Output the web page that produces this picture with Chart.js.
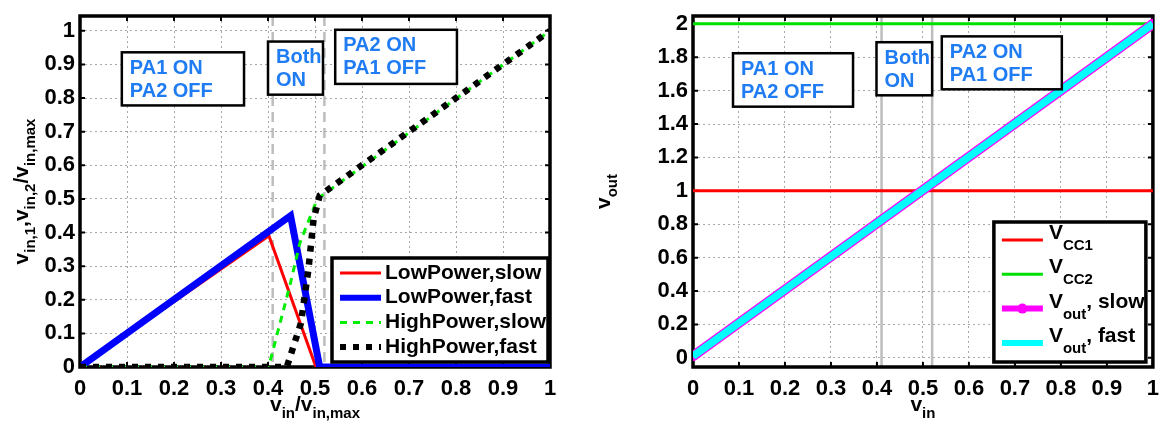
<!DOCTYPE html>
<html>
<head>
<meta charset="utf-8">
<script src="https://cdn.jsdelivr.net/npm/chart.js@4.4.0/dist/chart.umd.min.js"></script>
<style>
  body { margin: 0; background: #fff; }
  #wrap { position: relative; width: 1170px; height: 426px; }
  .pane { position: absolute; top: 0; width: 580px; height: 426px; }
</style>
</head>
<body>
<div id="wrap">
  <div class="pane" style="left:0"><canvas id="left" width="580" height="426"></canvas></div>
  <div class="pane" style="left:590px"><canvas id="right" width="580" height="426"></canvas></div>
</div>
<script>
// left plot: normalised input drive of each PA
const lowSlowX = [0.005, 0.402, 0.502, 1];
const lowSlowY = [0.005, 0.39, 0, 0];
const lowFastX = [0.005, 0.448, 0.51, 1];
const lowFastY = [0.005, 0.45, 0, 0];
const highSlowX = [0, 0.4, 0.405, 0.447, 0.468, 0.505, 1];
const highSlowY = [0, 0, 0.02, 0.245, 0.37, 0.5, 1];
const highFastX = [0, 0.44, 0.47, 0.486, 0.497, 0.51, 1];
const highFastY = [0, 0, 0.13, 0.29, 0.44, 0.51, 1];

// right plot: supply levels and output voltage
const vcc1X = [0, 1];
const vcc1Y = [1, 1];
const vcc2X = [0, 1];
const vcc2Y = [2, 2];
const voutSlowX = [0, 1];
const voutSlowY = [0.01, 2];
const voutFastX = [0, 1];
const voutFastY = [0.01, 2];

const xTicks = [0, 0.1, 0.2, 0.3, 0.4, 0.5, 0.6, 0.7, 0.8, 0.9, 1];
const leftYTicks = [0, 0.1, 0.2, 0.3, 0.4, 0.5, 0.6, 0.7, 0.8, 0.9, 1];
const rightYTicks = [0, 0.2, 0.4, 0.6, 0.8, 1, 1.2, 1.4, 1.6, 1.8, 2];

// boundaries of the operating regions
const regionEdges = [0.41, 0.52];
const regionText = [["PA1 ON", "PA2 OFF"], ["Both", "ON"], ["PA2 ON", "PA1 OFF"]];

const FONT = "'Liberation Sans', Arial, sans-serif";
const MAIN = "bold 21px " + FONT;
const SUB = "bold 15px " + FONT;

function pts(xs, ys) {
  return xs.map((x, i) => ({ x: x, y: ys[i] }));
}

// text with subscripts: parts = [[text, isSub], ...]
function drawRich(ctx, parts, x, y, align, subDy) {
  let total = 0;
  parts.forEach(p => { ctx.font = p[1] ? SUB : MAIN; total += ctx.measureText(p[0]).width; });
  let cx = align === "center" ? x - total / 2 : x;
  ctx.textAlign = "left";
  ctx.textBaseline = "alphabetic";
  parts.forEach(p => {
    ctx.font = p[1] ? SUB : MAIN;
    ctx.fillText(p[0], cx, y + (p[1] ? subDy : 0));
    cx += ctx.measureText(p[0]).width;
  });
}

const framePlugin = {
  id: "frame",
  beforeDatasetsDraw(chart, args, opts) {
    const ctx = chart.ctx;
    const a = chart.chartArea;
    const xs = chart.scales.x, ys = chart.scales.y;
    ctx.save();
    // region boundaries
    ctx.strokeStyle = "#bdbdbd";
    ctx.lineWidth = 2.5;
    ctx.setLineDash(opts.dashedEdges ? [10, 6] : []);
    regionEdges.forEach(v => {
      const px = xs.getPixelForValue(v);
      ctx.beginPath();
      ctx.moveTo(px, a.top);
      ctx.lineTo(px, a.bottom);
      ctx.stroke();
    });
    ctx.setLineDash([]);
    // box and inner ticks
    ctx.strokeStyle = "#000";
    ctx.lineWidth = 2;
    xs.ticks.forEach(t => {
      const px = xs.getPixelForValue(t.value);
      ctx.beginPath();
      ctx.moveTo(px, a.bottom); ctx.lineTo(px, a.bottom - 5);
      ctx.moveTo(px, a.top); ctx.lineTo(px, a.top + 5);
      ctx.stroke();
    });
    ys.ticks.forEach(t => {
      const py = ys.getPixelForValue(t.value);
      ctx.beginPath();
      ctx.moveTo(a.left, py); ctx.lineTo(a.left + 5, py);
      ctx.moveTo(a.right, py); ctx.lineTo(a.right - 5, py);
      ctx.stroke();
    });
    ctx.lineWidth = 3.5;
    ctx.strokeRect(a.left, a.top, a.right - a.left, a.bottom - a.top);
    ctx.restore();
  },
  afterDatasetsDraw(chart, args, opts) {
    const ctx = chart.ctx;
    const a = chart.chartArea;
    const xs = chart.scales.x, ys = chart.scales.y;
    ctx.save();
    // region labels
    opts.regions.forEach((r, i) => {
      const x0 = xs.getPixelForValue(r[0]), x1 = xs.getPixelForValue(r[1]);
      const y0 = ys.getPixelForValue(r[2]), y1 = ys.getPixelForValue(r[3]);
      ctx.fillStyle = "#fff";
      ctx.fillRect(x0, y0, x1 - x0, y1 - y0);
      ctx.strokeStyle = "#000";
      ctx.lineWidth = 2.5;
      ctx.strokeRect(x0, y0, x1 - x0, y1 - y0);
      ctx.fillStyle = "#1f7cf2";
      ctx.font = "bold 20px " + FONT;
      ctx.textAlign = "left";
      ctx.textBaseline = "middle";
      ctx.fillText(regionText[i][0], x0 + 8, y0 + 16);
      ctx.fillText(regionText[i][1], x0 + 8, y0 + 39);
    });
    // legend
    const lg = opts.legend;
    const lx = a.right - lg.inset - lg.w, ly = a.bottom - 5 - lg.h;
    ctx.fillStyle = "#fff";
    ctx.fillRect(lx, ly, lg.w, lg.h);
    ctx.strokeStyle = "#000";
    ctx.lineWidth = 3.5;
    ctx.strokeRect(lx, ly, lg.w, lg.h);
    chart.data.datasets.forEach((ds, i) => {
      const ry = ly + lg.first + i * lg.step;
      ctx.strokeStyle = ds.borderColor;
      ctx.lineWidth = Math.min(ds.borderWidth, 6);
      ctx.setLineDash(ds.borderDash || []);
      ctx.beginPath();
      ctx.moveTo(lx + 8, ry);
      ctx.lineTo(lx + 49, ry);
      ctx.stroke();
      ctx.setLineDash([]);
      if (ds.pointRadius > 0) {
        ctx.fillStyle = ds.borderColor;
        ctx.beginPath();
        ctx.arc(lx + 28.5, ry, ds.pointRadius, 0, Math.PI * 2);
        ctx.fill();
      }
      ctx.fillStyle = "#000";
      if (lg.rich) {
        drawRich(ctx, lg.rich[i], lx + 55, ry - 1, "left", 11);
      } else {
        ctx.font = "bold 21px " + FONT;
        ctx.textAlign = "left";
        ctx.textBaseline = "middle";
        ctx.fillText(ds.label, lx + 53, ry);
      }
    });
    ctx.restore();
  },
  afterDraw(chart, args, opts) {
    const ctx = chart.ctx;
    const a = chart.chartArea;
    ctx.save();
    ctx.fillStyle = "#000";
    drawRich(ctx, opts.xTitle, (a.left + a.right) / 2, 411, "center", 7);
    ctx.translate(opts.yTitleX, (a.top + a.bottom) / 2);
    ctx.rotate(-Math.PI / 2);
    drawRich(ctx, opts.yTitle, 0, 0, "center", 7);
    ctx.restore();
  }
};

function axis(ticks, min, max, fixed, horizontal) {
  return {
    type: "linear",
    min: min,
    max: max,
    afterBuildTicks: s => { s.ticks = ticks.map(v => ({ value: v })); },
    afterFit: s => { if (horizontal) s.height = fixed; else s.width = fixed; },
    grid: { color: "#a8a8a8", lineWidth: 1, drawTicks: false },
    border: { display: false, dash: [2, 3] },
    ticks: {
      color: "#000",
      padding: horizontal ? 11 : 5,
      maxRotation: 0,
      autoSkip: false,
      font: { family: FONT, size: 22, weight: "bold", lineHeight: 1 },
      callback: v => String(v)
    }
  };
}

function line(label, xs, ys, color, width, dash, order, radius) {
  return {
    label: label,
    data: pts(xs, ys),
    showLine: true,
    borderColor: color,
    backgroundColor: color,
    borderWidth: width,
    borderDash: dash,
    borderCapStyle: "butt",
    pointRadius: radius || 0,
    pointBorderWidth: 0,
    pointBackgroundColor: color,
    order: order
  };
}

new Chart(document.getElementById("left"), {
  type: "scatter",
  data: {
    datasets: [
      line("LowPower,slow", lowSlowX, lowSlowY, "#ff0000", 3, [], 4),
      line("LowPower,fast", lowFastX, lowFastY, "#0000ff", 7, [], 3),
      line("HighPower,slow", highSlowX, highSlowY, "#00ee00", 3, [7, 6], 2),
      line("HighPower,fast", highFastX, highFastY, "#000000", 6.5, [6, 7], 1)
    ]
  },
  options: {
    responsive: false,
    animation: false,
    devicePixelRatio: 1,
    layout: { padding: { top: 10, right: 30, left: 0, bottom: 0 } },
    scales: {
      x: axis(xTicks, 0, 1, 59, true),
      y: axis(leftYTicks, 0, 1.044, 80, false)
    },
    plugins: {
      legend: { display: false },
      tooltip: { enabled: false },
      frame: {
        dashedEdges: true,
        regions: [[0.089, 0.349, 0.936, 0.778], [0.40, 0.517, 0.968, 0.81], [0.543, 0.802, 1.003, 0.842]],
        legend: { w: 216, h: 104, inset: 2, first: 15, step: 24.7 },
        xTitle: [["v", 0], ["in", 1], ["/v", 0], ["in,max", 1]],
        yTitle: [["v", 0], ["in,1", 1], [",v", 0], ["in,2", 1], ["/v", 0], ["in,max", 1]],
        yTitleX: 28
      }
    }
  },
  plugins: [framePlugin]
});

new Chart(document.getElementById("right"), {
  type: "scatter",
  data: {
    datasets: [
      line("Vcc1", vcc1X, vcc1Y, "#ff0000", 3, [], 4),
      line("Vcc2", vcc2X, vcc2Y, "#00e000", 3, [], 3),
      line("Vout, slow", voutSlowX, voutSlowY, "#ff00ff", 10, [], 2, 5),
      line("Vout, fast", voutFastX, voutFastY, "#00ffff", 7.5, [], 1)
    ]
  },
  options: {
    responsive: false,
    animation: false,
    devicePixelRatio: 1,
    layout: { padding: { top: 10, right: 8, left: 0, bottom: 0 } },
    scales: {
      x: axis(xTicks, 0, 1, 59, true),
      y: axis(rightYTicks, -0.055, 2.047, 103, false)
    },
    plugins: {
      legend: { display: false },
      tooltip: { enabled: false },
      frame: {
        dashedEdges: false,
        regions: [[0.087, 0.348, 1.824, 1.504], [0.399, 0.52, 1.89, 1.572], [0.541, 0.802, 1.925, 1.608]],
        legend: {
          w: 152, h: 140, inset: 7, first: 18, step: 34.3,
          rich: [
            [["V", 0], ["CC1", 1]],
            [["V", 0], ["CC2", 1]],
            [["V", 0], ["out", 1], [", slow", 0]],
            [["V", 0], ["out", 1], [", fast", 0]]
          ]
        },
        xTitle: [["v", 0], ["in", 1]],
        yTitle: [["v", 0], ["out", 1]],
        yTitleX: 20
      }
    }
  },
  plugins: [framePlugin]
});
</script>
</body>
</html>
